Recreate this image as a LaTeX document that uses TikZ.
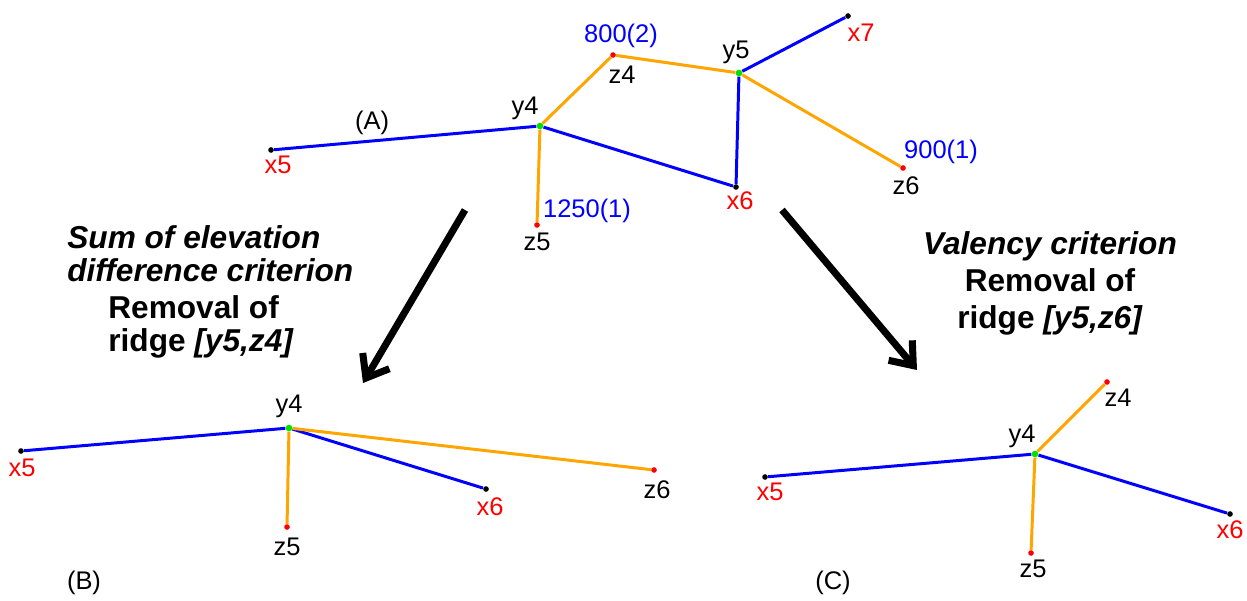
\documentclass[tikz,border=0pt]{standalone}
\usepackage{fontspec}
\setmainfont{Liberation Sans}
\usetikzlibrary{arrows.meta, backgrounds}
\definecolor{ridgeorange}{RGB}{255,165,0}
\definecolor{valleyblue}{RGB}{0,0,255}
\definecolor{passgreen}{RGB}{0,225,0}
\definecolor{peakred}{RGB}{255,0,0}

\begin{document}
\begin{tikzpicture}[
    x=0.02cm, y=-0.02cm,
    pt/.style     = {circle, inner sep=0pt, minimum size=3.2pt},
    pit/.style    = {pt, fill=black},
    peak/.style   = {pt, fill=peakred},
    pass/.style   = {pt, fill=passgreen, minimum size=3.8pt},
    lab/.style    = {font=\fontsize{14.5}{17}\selectfont, inner sep=0pt},
    xlab/.style   = {lab, text=peakred},
    elev/.style   = {lab, text=valleyblue},
    valley/.style = {valleyblue, line width=1.7pt},
    ridge/.style  = {ridgeorange, line width=1.7pt},
    move/.style   = {line width=4pt, -{Straight Barb[length=0.4cm, width=0.62cm]}},
    crit/.style   = {font=\fontsize{18}{19}\selectfont\bfseries, inner sep=0pt},
  ]
  \useasboundingbox (0,0) rectangle (1247,601);

  %% (A) initial graph
  \node[pit]  (Ax5) at (271,150) {};
  \node[pass] (Ay4) at (540,126) {};
  \node[peak] (Az4) at (613,55)  {};
  \node[pass] (Ay5) at (739,73)  {};
  \node[pit]  (Ax7) at (848,16)  {};
  \node[pit]  (Ax6) at (736,187) {};
  \node[peak] (Az6) at (903,168) {};
  \node[peak] (Az5) at (537,225) {};

  \begin{scope}[on background layer]
    \draw[valley] (Ax5) -- (Ay4);
    \draw[valley] (Ay4) -- (Ax6);
    \draw[valley] (Ay5) -- (Ax6);
    \draw[valley] (Ay5) -- (Ax7);
    \draw[ridge]  (Ay4) -- (Az4);
    \draw[ridge]  (Az4) -- (Ay5);
    \draw[ridge]  (Ay5) -- (Az6);
    \draw[ridge]  (Ay4) -- (Az5);
  \end{scope}

  \node[xlab] (Ax5l) at (278,165) {x5};
  \node[lab]  (Ay4l) at (525,108) {y4};
  \node[elev] (Az4e) at (621,36)  {800(2)};
  \node[lab]  (Az4l) at (622,75)  {z4};
  \node[lab]  (Ay5l) at (736,52)  {y5};
  \node[xlab] (Ax7l) at (861,33)  {x7};
  \node[xlab] (Ax6l) at (740,201) {x6};
  \node[elev] (Az6e) at (941,152) {900(1)};
  \node[lab]  (Az6l) at (906,186) {z6};
  \node[elev] (Az5e) at (587,211) {1250(1)};
  \node[lab]  (Az5l) at (537,242) {z5};
  \node[lab]  (Atag) at (372,123) {(A)};

  %% criteria and arrows
  \coordinate (mvL0) at (465,210);
  \coordinate (mvL1) at (363,383);
  \coordinate (mvR0) at (782,210);
  \coordinate (mvR1) at (917,370);
  \draw[move] (mvL0) -- (mvL1);
  \draw[move] (mvR0) -- (mvR1);

  \node[crit, anchor=west, align=left] (critL) at (67,254)
    {\itshape Sum of elevation\\\itshape difference criterion};
  \node[crit, anchor=west, align=left] (remL) at (108,327)
    {Removal of\\ridge \textit{[y5,z4]}};
  \node[crit, align=center] (critR) at (1050,283)
    {\textit{Valency criterion}\\[2pt]Removal of\\[2pt]ridge \textit{[y5,z6]}};

  %% (B) sum of elevation difference
  \node[pit]  (Bx5) at (21,451)  {};
  \node[pass] (By4) at (289,428) {};
  \node[pit]  (Bx6) at (486,489) {};
  \node[peak] (Bz6) at (654,470) {};
  \node[peak] (Bz5) at (287,527) {};

  \begin{scope}[on background layer]
    \draw[valley] (Bx5) -- (By4);
    \draw[valley] (By4) -- (Bx6);
    \draw[ridge]  (By4) -- (Bz6);
    \draw[ridge]  (By4) -- (Bz5);
  \end{scope}

  \node[lab]  (By4l) at (289,406) {y4};
  \node[xlab] (Bx5l) at (22,468)  {x5};
  \node[xlab] (Bx6l) at (490,507) {x6};
  \node[lab]  (Bz6l) at (657,490) {z6};
  \node[lab]  (Bz5l) at (287,547) {z5};
  \node[lab]  (Btag) at (84,583)  {(B)};

  %% (C) valency
  \node[pit]  (Cx5) at (765,477)  {};
  \node[pass] (Cy4) at (1035,454) {};
  \node[peak] (Cz4) at (1107,382) {};
  \node[pit]  (Cx6) at (1230,514) {};
  \node[peak] (Cz5) at (1031,553) {};

  \begin{scope}[on background layer]
    \draw[valley] (Cx5) -- (Cy4);
    \draw[valley] (Cy4) -- (Cx6);
    \draw[ridge]  (Cy4) -- (Cz4);
    \draw[ridge]  (Cy4) -- (Cz5);
  \end{scope}

  \node[lab]  (Cz4l) at (1118,398) {z4};
  \node[lab]  (Cy4l) at (1022,436) {y4};
  \node[xlab] (Cx5l) at (770,492)  {x5};
  \node[xlab] (Cx6l) at (1230,530) {x6};
  \node[lab]  (Cz5l) at (1033,569) {z5};
  \node[lab]  (Ctag) at (833,583)  {(C)};

\end{tikzpicture}
\end{document}
